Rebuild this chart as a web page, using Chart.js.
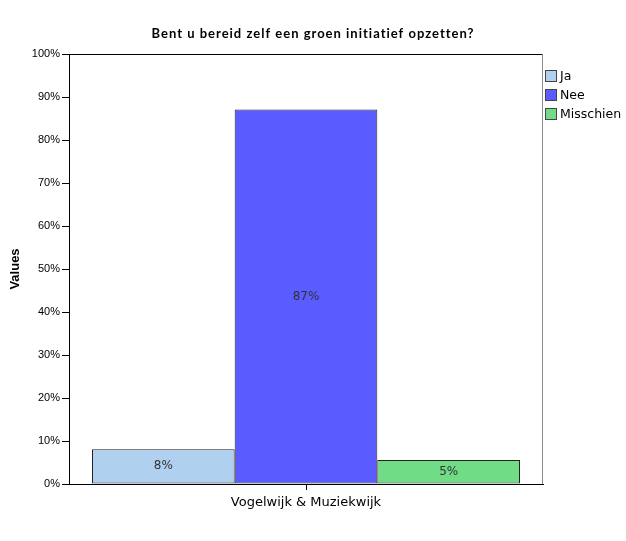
<!DOCTYPE html>
<html><head><meta charset="utf-8">
<script src="https://cdn.jsdelivr.net/npm/chart.js@4/dist/chart.umd.min.js"></script>
<style>html,body{margin:0;padding:0;background:#fff}#w{width:626px;height:541px}</style>
</head><body><div id="w"><canvas id="c" width="626" height="541"></canvas></div>
<script>
const categories = ["Vogelwijk & Muziekwijk"];
const seriesNames = ["Ja", "Nee", "Misschien"];
const jaValues = [8.1];
const neeValues = [87.1];
const misschienValues = [5.6];
const dataLabels = ["8%", "87%", "5%"];
const yTicks = [0,10,20,30,40,50,60,70,80,90,100];
const titleText = "Bent u bereid zelf een groen initiatief opzetten?";
const colors = ["#afd0ef", "#5a5cff", "#70dc86"];

const framePlugin = {
  id: 'frame',
  afterDraw(chart) {
    const ctx = chart.ctx, a = chart.chartArea;
    ctx.save();
    // title
    ctx.fillStyle = '#000';
    ctx.font = 'bold 13px Lato';
    ctx.letterSpacing = '1px';
    ctx.textAlign = 'center'; ctx.textBaseline = 'middle';
    ctx.fillText(titleText, 313, 34);
    ctx.letterSpacing = '0px';
    ctx.lineWidth = 1;
    ctx.strokeStyle = '#000';
    ctx.beginPath(); ctx.moveTo(a.left, a.top + 0.5); ctx.lineTo(a.right, a.top + 0.5); ctx.stroke();
    ctx.strokeStyle = '#888';
    ctx.beginPath(); ctx.moveTo(a.right - 0.5, a.top); ctx.lineTo(a.right - 0.5, a.bottom); ctx.stroke();
    // data labels
    ctx.fillStyle = '#333';
    ctx.font = '12px "DejaVu Sans"';
    chart.data.datasets.forEach((ds, i) => {
      const el = chart.getDatasetMeta(i).data[0];
      ctx.fillText(dataLabels[i], el.x, (el.y + el.base) / 2);
    });
    // legend
    ctx.font = '12.5px "DejaVu Sans"';
    ctx.textAlign = 'left';
    chart.data.datasets.forEach((ds, i) => {
      const cy = 76 + i * 19;
      ctx.fillStyle = ds.backgroundColor;
      ctx.fillRect(545, cy - 6, 12, 12);
      ctx.strokeStyle = '#444';
      ctx.strokeRect(545.5, cy - 5.5, 11, 11);
      ctx.fillStyle = '#000';
      ctx.fillText(ds.label, 560, cy + 1);
    });
    ctx.restore();
  }
};

new Chart(document.getElementById('c'), {
  type: 'bar',
  data: {
    labels: categories,
    datasets: [
      { label: seriesNames[0], data: jaValues, backgroundColor: colors[0] },
      { label: seriesNames[1], data: neeValues, backgroundColor: colors[1] },
      { label: seriesNames[2], data: misschienValues, backgroundColor: colors[2] }
    ].map(d => Object.assign(d, { borderColor: '#222', borderWidth: 1, borderSkipped: false, categoryPercentage: 0.903, barPercentage: 1 }))
  },
  options: {
    responsive: false,
    animation: false,
    layout: { padding: { left: 0, right: 83, top: 54, bottom: 0 } },
    plugins: {
      legend: { display: false },
      tooltip: { enabled: false },
      title: { display: false }
    },
    scales: {
      y: {
        min: 0, max: 100,
        afterFit(s) { s.width = 69; },
        afterBuildTicks(s) { s.ticks = yTicks.map(v => ({ value: v })); },
        ticks: { callback: v => v + '%', color: '#000', font: { family: '"Liberation Sans"', size: 11 }, padding: 2 },
        grid: { drawOnChartArea: false, drawTicks: true, tickLength: 7, color: '#000' },
        border: { display: true, color: '#000', width: 1 },
        title: { display: true, text: 'Values', color: '#000', font: { family: '"Liberation Sans"', size: 13, weight: 'bold' }, padding: { top: 8, bottom: 0 } }
      },
      x: {
        afterFit(s) { s.height = 57; },
        ticks: { color: '#000', font: { family: '"DejaVu Sans"', size: 13 }, padding: 5 },
        grid: { drawOnChartArea: false, drawTicks: true, tickLength: 6, color: '#000', offset: false },
        border: { display: true, color: '#000', width: 1 }
      }
    }
  },
  plugins: [framePlugin]
});
</script>
</body></html>
